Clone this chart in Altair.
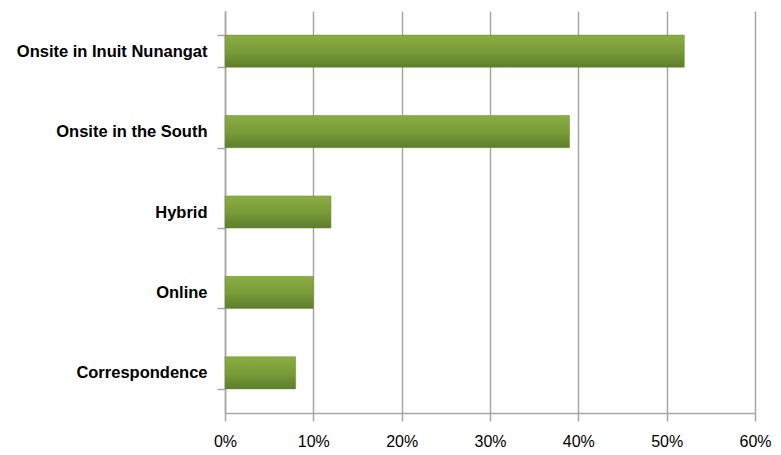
import altair as alt
import pandas as pd

categories = ["Onsite in Inuit Nunangat", "Onsite in the South", "Hybrid", "Online", "Correspondence"]
values = [0.52, 0.39, 0.12, 0.10, 0.08]

df = pd.DataFrame({"category": categories, "value": values})

grad = alt.Gradient(
    gradient="linear",
    stops=[
        alt.GradientStop(color="#8aad43", offset=0),
        alt.GradientStop(color="#7a9c38", offset=0.5),
        alt.GradientStop(color="#5e7d2b", offset=1),
    ],
    x1=0, x2=0, y1=0, y2=1,
)

chart = alt.Chart(df).mark_bar(color=grad, stroke="#6f8f33", strokeWidth=0.5).encode(
    x=alt.X("value:Q",
            scale=alt.Scale(domain=[0, 0.6], nice=False),
            axis=alt.Axis(format=".0%", values=[0, 0.1, 0.2, 0.3, 0.4, 0.5, 0.6],
                          title=None, grid=True, gridColor="#a6a6a6", gridWidth=1.5,
                          domainColor="#a6a6a6", domainWidth=1.5,
                          tickColor="#a6a6a6", tickWidth=1.5, tickSize=8,
                          labelFont="Liberation Sans", labelFontSize=16, labelColor="#000000",
                          labelPadding=12, labelFlush=False)),
    y=alt.Y("category:N", sort=categories,
            scale=alt.Scale(paddingInner=0.6, paddingOuter=0.3),
            axis=alt.Axis(title=None, tickBand="extent",
                          domainColor="#a6a6a6", domainWidth=1.5,
                          tickColor="#a6a6a6", tickWidth=1.5, tickSize=8,
                          labelFont="Liberation Sans", labelFontWeight="bold",
                          labelFontSize=16.5, labelColor="#000000", labelPadding=10,
                          labelLimit=300)),
).properties(
    width=530, height=402,
    autosize=alt.AutoSizeParams(type="none"),
    padding={"left": 217, "top": 3, "right": 18, "bottom": 38},
).configure_view(stroke=None)

chart.save("out.html", embed_options={"renderer": "svg", "actions": False})
